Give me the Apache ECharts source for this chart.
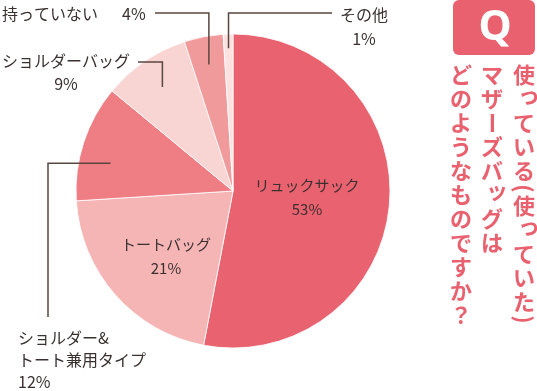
<!DOCTYPE html>
<html><head><meta charset="utf-8">
<script src="https://cdn.jsdelivr.net/npm/echarts@6/dist/echarts.min.js"></script>
<style>html,body{margin:0;padding:0;background:#fff}#c{width:537px;height:391px}</style>
</head><body><div id="c"></div>
<script>
// ---- data ----
const categories = ['リュックサック','トートバッグ','ショルダー&トート兼用タイプ','ショルダーバッグ','持っていない','その他'];
const displayNames = ['リュックサック','トートバッグ','ショルダー&\nトート兼用タイプ','ショルダーバッグ','持っていない','その他'];
const values = [53, 21, 12, 9, 4, 1];
const questionColumns = ['使っている(使っていた)', 'マザーズバッグは', 'どのようなものですか？'];
const qMark = 'Q';

// ---- style / layout ----
const palette = ['#e9626f', '#f5b5b5', '#ee7d84', '#f8d5d3', '#f09a9c', '#fbe2e0'];
const CX = 233, CY = 191, R = 157;
const FONT = '"Noto Sans CJK JP", "Noto Sans", sans-serif';
const textColor = '#3a3030';
const lineColor = '#5a4640';
const qColor = '#e9606f';

const total = values.reduce((a, b) => a + b, 0);
const starts = [];
let acc = 0;
values.forEach(v => { starts.push(acc / total); acc += v; });
function anchor(i, f, rf) {
  const a = (starts[i] + f * values[i] / total) * 2 * Math.PI; // clockwise from top
  return [CX + rf * R * Math.sin(a), CY - rf * R * Math.cos(a)];
}

// label placement config (layout only)
const labelCfg = [
  { x: 307, y: 197, align: 'center', va: 'middle' },
  { x: 166, y: 256, align: 'center', va: 'middle' },
  { x: 18, y: 327, align: 'left', va: 'top', lh: 22,
    line: i => { const p = anchor(i, 0.38, 0.80); return [p, [48, p[1]], [48, 317]]; } },
  { x: 66, y: 49, align: 'center', va: 'top', lh: 23,
    line: i => { const p = anchor(i, 0.5, 0.80); return [p, [p[0], 62], [138, 62]]; } },
  { x: 2, y: 14, align: 'left', va: 'middle',
    line: i => { const p = anchor(i, 0.5, 0.82); return [p, [p[0], 13], [155, 13]]; } },
  { x: 364, y: 3, align: 'center', va: 'top', lh: 24,
    line: i => { const p = anchor(i, 0.5, 0.91); return [p, [p[0], 13], [332, 13]]; } }
];

const seriesData = categories.map((c, i) => ({
  name: c,
  value: values[i],
  label: {
    position: i < 2 ? 'inside' : 'outside',
    lineHeight: labelCfg[i].lh || 24,
    fontSize: i < 2 ? 15 : 16
  },
  labelLine: { show: false }
}));

// leader lines (computed from the slice geometry)
const graphics = [];
labelCfg.forEach((c, i) => {
  if (!c.line) return;
  graphics.push({ type: 'polyline', z: 100, shape: { points: c.line(i) },
    style: { stroke: lineColor, lineWidth: 1.5, fill: null } });
});

// question text (vertical writing, per character)
graphics.push(
  { type: 'rect', shape: { x: 453, y: 0, width: 82, height: 55, r: 6 }, style: { fill: qColor } },
  { type: 'text', x: 495, y: 28, style: { text: qMark, x: 0, y: 0, align: 'center', verticalAlign: 'middle',
      font: 'bold 42px "Noto Sans", sans-serif', fill: '#fff' } }
);
const colX = [524, 492, 461];
const pitch = 24;
questionColumns.forEach((col, ci) => {
  let y = 63;
  for (const ch of col) {
    const narrow = ch === '(' || ch === ')';
    const h = narrow ? 11 : pitch;
    let dx = 0, dy = 0, rot = 0;
    if ('っッ'.includes(ch)) { dx = 5; dy = -4; }
    if (ch === 'ー' || narrow) rot = -Math.PI / 2;
    graphics.push({
      type: 'text', x: colX[ci] + dx, y: y + h / 2 + dy, rotation: rot,
      style: { text: ch, x: 0, y: 0, align: 'center', verticalAlign: 'middle',
        font: 'bold 22px ' + FONT, fill: qColor }
    });
    y += h;
  }
});

const chart = echarts.init(document.getElementById('c'), null, { renderer: 'canvas' });
chart.setOption({
  animation: false,
  color: palette,
  graphic: graphics,
  series: [{
    type: 'pie',
    center: [CX, CY],
    radius: [0, R],
    startAngle: 90,
    clockwise: true,
    avoidLabelOverlap: false,
    itemStyle: { borderColor: '#fff', borderWidth: 0.8 },
    emphasis: { disabled: true },
    label: {
      show: true,
      color: textColor,
      fontFamily: FONT,
      formatter: p => {
        const i = p.dataIndex;
        if (i === 4) return '{a|' + displayNames[i] + '}{b|' + p.value + '%}';
        return displayNames[i] + '\n' + p.value + '%';
      },
      rich: {
        a: { fontSize: 16, color: textColor, fontFamily: FONT },
        b: { fontSize: 16, color: textColor, fontFamily: FONT, padding: [0, 0, 0, 24] }
      }
    },
    labelLine: { show: false },
    labelLayout: params => {
      const c = labelCfg[params.dataIndex];
      return { x: c.x, y: c.y, align: c.align, verticalAlign: c.va };
    },
    data: seriesData
  }]
});
</script></body></html>
